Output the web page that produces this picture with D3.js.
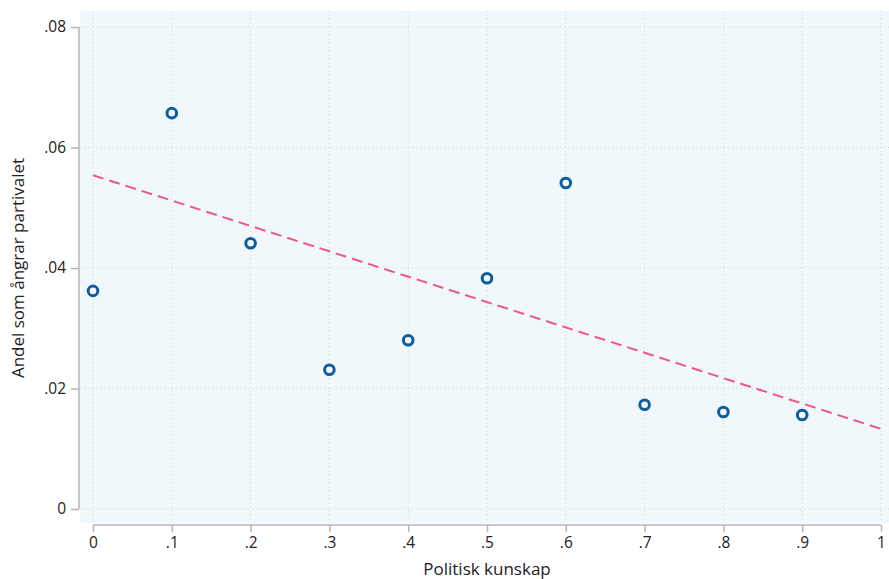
<!DOCTYPE html>
<html>
<head>
<meta charset="utf-8">
<script src="https://cdn.jsdelivr.net/npm/d3@7"></script>
<style>
  body { margin: 0; background: #fff; }
  text { font-family: "Open Sans", "Noto Sans", sans-serif; fill: #222; }
</style>
</head>
<body>
<div id="chart"></div>
<script>
// data
var kunskap = [0, .1, .2, .3, .4, .5, .6, .7, .8, .9];
var andel = [0.0362, 0.0657, 0.0441, 0.0231, 0.0280, 0.0383, 0.0541, 0.0173, 0.0161, 0.0156];
var fitX = [0, 1];
var fitY = [0.0554, 0.0133];
var xTicks = [0, .1, .2, .3, .4, .5, .6, .7, .8, .9, 1];
var xTickLabels = ["0", ".1", ".2", ".3", ".4", ".5", ".6", ".7", ".8", ".9", "1"];
var yTicks = [0, .02, .04, .06, .08];
var yTickLabels = ["0", ".02", ".04", ".06", ".08"];

var W = 889, H = 579;

var svg = d3.select("#chart").append("svg")
    .attr("width", W).attr("height", H);

var x = d3.scaleLinear().domain([0, 1]).range([93, 881]);
var y = d3.scaleLinear().domain([0, 0.08]).range([509, 27]);

// plot background
svg.append("rect")
    .attr("x", 80).attr("y", 11)
    .attr("width", W - 80).attr("height", 512)
    .attr("fill", "#f1f8fc");

// grid
svg.append("g").selectAll("line").data(xTicks).enter().append("line")
    .attr("x1", d => x(d)).attr("x2", d => x(d))
    .attr("y1", 11).attr("y2", 523)
    .attr("stroke", "#d0d4d7").attr("stroke-width", 1)
    .attr("stroke-dasharray", "1,3");
svg.append("g").selectAll("line").data(yTicks).enter().append("line")
    .attr("x1", 80).attr("x2", W)
    .attr("y1", d => y(d)).attr("y2", d => y(d))
    .attr("stroke", "#d0d4d7").attr("stroke-width", 1)
    .attr("stroke-dasharray", "1,3");

// y axis
var yAxis = svg.append("g")
    .attr("transform", "translate(79,0)")
    .call(d3.axisLeft(y).tickValues(yTicks)
      .tickFormat((d, i) => yTickLabels[i]).tickSize(8).tickPadding(5));

// x axis
var xAxis = svg.append("g")
    .attr("transform", "translate(0,525)")
    .call(d3.axisBottom(x).tickValues(xTicks)
      .tickFormat((d, i) => xTickLabels[i]).tickSize(7).tickPadding(5));

[yAxis, xAxis].forEach(function(a) {
  a.select(".domain").attr("stroke", "#b4b4b4").attr("stroke-width", 1.5);
  a.selectAll(".tick line").attr("stroke", "#b4b4b4").attr("stroke-width", 1.5);
  a.selectAll(".tick text").attr("font-size", 15.5).attr("fill", "#222")
    .attr("font-family", "'Open Sans', sans-serif");
});
// domain lines without end caps
yAxis.select(".domain").attr("d", "M0," + y(0.08) + "V" + y(0));
xAxis.select(".domain").attr("d", "M" + x(0) + ",0H" + x(1));

// fitted line
svg.append("line")
    .attr("x1", x(fitX[0])).attr("y1", y(fitY[0]))
    .attr("x2", x(fitX[1])).attr("y2", y(fitY[1]))
    .attr("stroke", "#f0587e").attr("stroke-width", 2)
    .attr("stroke-dasharray", "11,6");

// points
svg.append("g").selectAll("circle").data(kunskap).enter().append("circle")
    .attr("cx", d => x(d))
    .attr("cy", (d, i) => y(andel[i]))
    .attr("r", 4.8)
    .attr("fill", "#f4f8fc")
    .attr("stroke", "#0d5d9f")
    .attr("stroke-width", 3);

// titles
svg.append("text")
    .attr("x", x(0.5)).attr("y", 575)
    .attr("text-anchor", "middle").attr("font-size", 17)
    .text("Politisk kunskap");
svg.append("text")
    .attr("transform", "translate(24," + y(0.04) + ") rotate(-90)")
    .attr("text-anchor", "middle").attr("font-size", 17)
    .text("Andel som ångrar partivalet");
</script>
</body>
</html>
